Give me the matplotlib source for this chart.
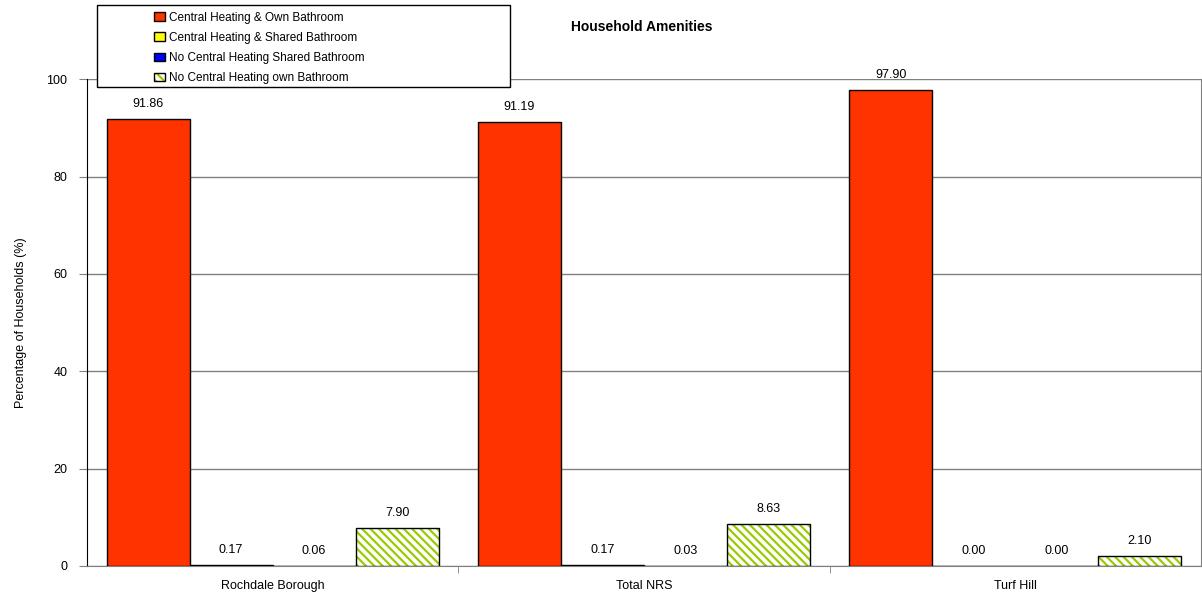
import matplotlib
matplotlib.use("Agg")
import matplotlib.pyplot as plt
from matplotlib.patches import Rectangle, Patch
from matplotlib.legend_handler import HandlerTuple
import numpy as np

categories = ["Rochdale Borough", "Total NRS", "Turf Hill"]
series_names = ["Central Heating & Own Bathroom",
                "Central Heating & Shared Bathroom",
                "No Central Heating Shared Bathroom",
                "No Central Heating own Bathroom"]
ch_own = [91.86, 91.19, 97.90]
ch_shared = [0.17, 0.17, 0.00]
nch_shared = [0.06, 0.03, 0.00]
nch_own = [7.90, 8.63, 2.10]

plt.rcParams['font.family'] = ['Liberation Sans', 'DejaVu Sans']
plt.rcParams['hatch.linewidth'] = 1.6

W, H = 1202, 595
fig = plt.figure(figsize=(W/100, H/100), dpi=100)
ax = fig.add_axes([87/W, 1-566/H, (1201-87)/W, (566-79.3)/H])

values = [ch_own, ch_shared, nch_shared, nch_own]
faces = ["#FF3300", "#FFFF00", "#0000FF", "white"]
hatches = [None, None, None, "\\\\\\\\"]
x = np.arange(len(categories))
w = 0.2235
offsets = (np.arange(4) - 1.5) * w

handles = []
for i, (vals, fc, h) in enumerate(zip(values, faces, hatches)):
    if h:
        ax.bar(x + offsets[i], vals, w, facecolor=fc, edgecolor="#99CC00",
               hatch=h, linewidth=0, zorder=3)
        ax.bar(x + offsets[i], vals, w, facecolor="none", edgecolor="black",
               linewidth=1.0, zorder=4)
        handles.append((Patch(facecolor=fc, edgecolor="#99CC00", hatch=h, linewidth=0),
                        Patch(facecolor="none", edgecolor="black", linewidth=1.0)))
    else:
        ax.bar(x + offsets[i], vals, w, facecolor=fc, edgecolor="black",
               linewidth=1.0, zorder=3)
        handles.append(Patch(facecolor=fc, edgecolor="black", linewidth=1.0))
    for xb, v in zip(x + offsets[i], vals):
        ax.text(xb, v + 1.8, f"{v:.2f}", ha="center", va="bottom",
                fontsize=9, zorder=5)

ax.set_xlim(-0.5, 2.5)
ax.set_ylim(0, 100)
ax.set_yticks([0, 20, 40, 60, 80, 100])
ax.set_yticklabels(["0", "20", "40", "60", "80", "100"], fontsize=9)
ax.yaxis.grid(True, color="#808080", linewidth=1.0, zorder=0)
ax.set_axisbelow(True)
ax.set_xticks(x)
ax.set_xticklabels(categories, fontsize=9)
ax.tick_params(axis="x", length=0, pad=10)
ax.tick_params(axis="y", length=6, direction="out", color="#808080", pad=8)
ax.set_xticks([0.5, 1.5], minor=True)
ax.tick_params(axis="x", which="minor", length=5, direction="out", color="#808080")
ax.spines["top"].set_visible(False)
ax.spines["right"].set_color("#808080")
ax.spines["left"].set_color("black")
ax.spines["bottom"].set_color("#808080")
ax.set_ylabel("Percentage of Households (%)", fontsize=9, labelpad=14)

fig.text(642/W, 1-27/H, "Household Amenities", ha="center", va="center",
         fontsize=10, fontweight="bold")

# legend frame
frame = Rectangle((97/W, 1-87/H), (510-97)/W, (87-5)/H, transform=fig.transFigure,
                  facecolor="white", edgecolor="black", linewidth=1.0, zorder=9)
fig.patches.append(frame)
leg = fig.legend(handles=handles, labels=series_names, loc="upper left",
                 bbox_to_anchor=(150/W, 1-8/H), fontsize=8.5,
                 frameon=False, handlelength=1.0, handleheight=0.7,
                 handletextpad=0.3, labelspacing=0.69, borderpad=0.3,
                 borderaxespad=0, handler_map={tuple: HandlerTuple(ndivide=1)})
leg.set_zorder(10)

fig.savefig("out.png", dpi=100)
